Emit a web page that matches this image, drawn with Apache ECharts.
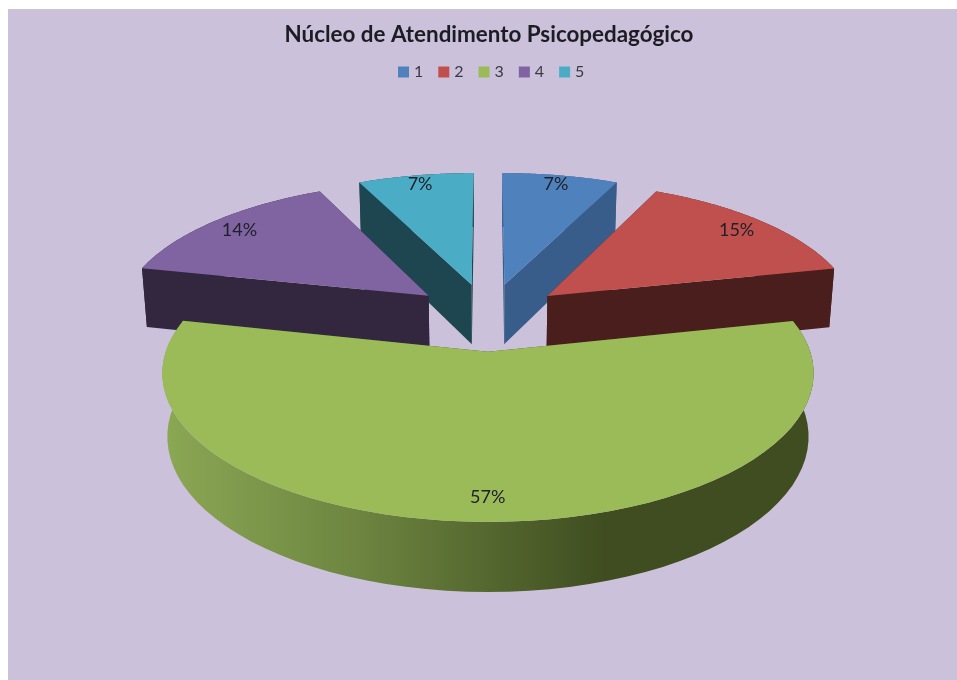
<!DOCTYPE html>
<html>
<head>
<meta charset="utf-8">
<style>
html,body{margin:0;padding:0;background:#fff;overflow:hidden}
#chart{position:absolute;left:8px;top:9px;width:949px;height:671px}
</style>
<script src="https://cdn.jsdelivr.net/npm/echarts@6/dist/echarts.min.js"></script>
</head>
<body>
<div id="chart"></div>
<script>
var categories = ['1', '2', '3', '4', '5'];
var values = [7, 14.51, 57, 14.49, 7];
var topColors = ['#4f81bd', '#c0504d', '#9bbb59', '#8064a2', '#4bacc6'];
var wallColors = ['#385d8a', '#4a1e1c', '#3f4d20', '#32273f', '#1d4650'];
var labelRadius = [0.91, 0.875, 0.875, 0.875, 0.91];
var paintOrder = [4, 0, 3, 1, 2];
var titleText = 'Núcleo de Atendimento Psicopedagógico';

var total = values.reduce(function (a, b) { return a + b; }, 0);
var cumulative = [];
values.reduce(function (a, b, i) { cumulative[i] = a; return a + b; }, 0);

// projection of the tilted disc (camera perspective)
var CX = 480, CY = 307.6, BX = 311, AY = 135.5, K = 0.14, HZ = 62, MZ = 0.015, EXPLODE = 0.25;

function project(x, y, z) {
  var w = 1 - K * y + MZ * z;
  return [CX + BX * x / w, CY + (AY * y + HZ * z) / w];
}
function rimPoint(angle, off, r) {
  return [off[0] + r * Math.sin(angle), off[1] - r * Math.cos(angle)];
}
function flat(c) { return project(c[0], c[1], 0); }
function low(c) { return project(c[0], c[1], 1); }

function renderSlice(params, api) {
  var i = api.value(0);
  var a0 = cumulative[i] / total * Math.PI * 2;
  var a1 = (cumulative[i] + values[i]) / total * Math.PI * 2;
  var mid = (a0 + a1) / 2;
  var off = [EXPLODE * Math.sin(mid), -EXPLODE * Math.cos(mid)];
  var arc = [], steps = 64;
  for (var s = 0; s <= steps; s++) arc.push(rimPoint(a0 + (a1 - a0) * s / steps, off, 1));

  var topPts = [flat(off)].concat(arc.map(flat));
  var wallPts = arc.map(flat).concat(arc.slice().reverse().map(low));
  var side0 = [flat(off), flat(arc[0]), low(arc[0]), low(off)];
  var side1 = [flat(off), flat(arc[steps]), low(arc[steps]), low(off)];
  var wallFill = i === 2
    ? new echarts.graphic.LinearGradient(0, 0, 1, 0, [
        { offset: 0, color: '#8ba854' },
        { offset: 0.3, color: '#6d8540' },
        { offset: 0.68, color: '#3f4d20' },
        { offset: 1, color: '#3f4d20' }
      ])
    : wallColors[i];
  function poly(points, fill) {
    return { type: 'polygon', shape: { points: points }, style: { fill: fill } };
  }
  var labelPos = flat(rimPoint(mid, off, labelRadius[i]));
  return {
    type: 'group',
    children: [
      poly(wallPts, wallFill),
      poly(side0, wallColors[i]),
      poly(side1, wallColors[i]),
      poly(topPts, topColors[i]),
      {
        type: 'text',
        style: {
          text: Math.round(values[i] / total * 100) + '%',
          x: labelPos[0], y: labelPos[1],
          align: 'center', verticalAlign: 'middle',
          fill: '#20202a', font: '18px Lato, sans-serif'
        }
      }
    ]
  };
}

var chart = echarts.init(document.getElementById('chart'), null, { renderer: 'canvas' });
chart.setOption({
  animation: false,
  backgroundColor: '#ccc1da',
  title: {
    text: titleText, left: 476, textAlign: 'center', top: 10,
    textStyle: { fontFamily: 'Lato, sans-serif', fontSize: 22.4, fontWeight: 'bold', color: '#1c1c24' }
  },
  legend: {
    data: categories, top: 50, left: 385, itemWidth: 11, itemHeight: 11, itemGap: 15, icon: 'rect',
    textStyle: { fontFamily: 'Lato, sans-serif', fontSize: 16, color: '#3a3a44' }
  },
  series: paintOrder.map(function (i) {
    return {
      type: 'custom', name: categories[i], coordinateSystem: 'none',
      itemStyle: { color: topColors[i] },
      renderItem: renderSlice,
      data: [[i, values[i]]],
      silent: true
    };
  })
});
</script>
</body>
</html>
